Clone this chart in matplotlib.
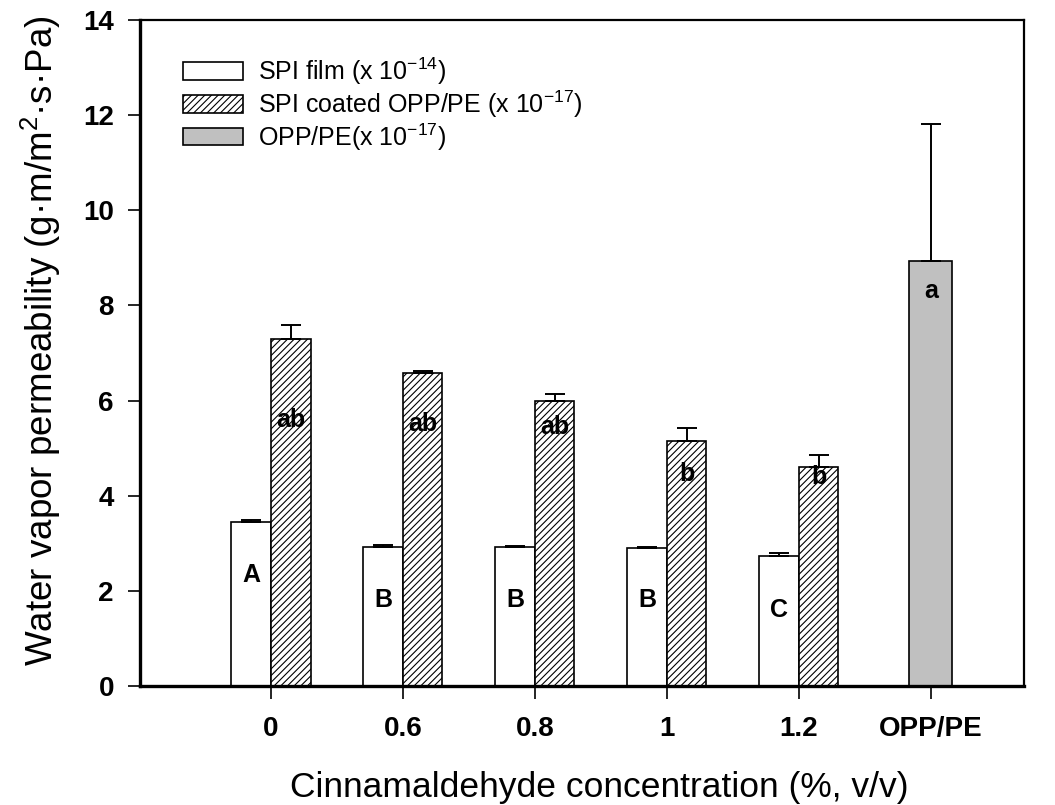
import numpy as np
import matplotlib
matplotlib.use("Agg")
import matplotlib.pyplot as plt
from matplotlib.patches import Patch

plt.rcParams['font.family'] = ['Liberation Sans', 'DejaVu Sans']
plt.rcParams['mathtext.fontset'] = 'custom'
plt.rcParams['mathtext.rm'] = 'Liberation Sans'
plt.rcParams['mathtext.it'] = 'Liberation Sans:italic'
plt.rcParams['mathtext.bf'] = 'Liberation Sans:bold'
plt.rcParams['hatch.linewidth'] = 0.8

# data
groups = ['0', '0.6', '0.8', '1', '1.2', 'OPP/PE']
spi_film = [3.45, 2.93, 2.91, 2.89, 2.73]
spi_film_err = [0.03, 0.03, 0.03, 0.03, 0.06]
spi_coated = [7.29, 6.58, 5.99, 5.15, 4.60]
spi_coated_err = [0.30, 0.05, 0.15, 0.27, 0.25]
opp_pe = [8.93]
opp_pe_err = [2.88]

film_letters = ['A', 'B', 'B', 'B', 'C']
film_letter_y = [2.33, 1.80, 1.80, 1.80, 1.60]
coated_letters = ['ab', 'ab', 'ab', 'b', 'b']
coated_letter_y = [5.60, 5.50, 5.45, 4.45, 4.40]
opp_letter = ['a']
opp_letter_y = [8.30]

w = 0.3
x = np.arange(len(groups))
xs = x[:5]

fig, ax = plt.subplots(figsize=(10.55, 8.05), dpi=100)
fig.subplots_adjust(left=0.133, right=0.971, top=0.975, bottom=0.148)

ekw = dict(ecolor='black', elinewidth=1.4, capsize=7, capthick=1.4)


def up(err):
    return [np.zeros(len(err)), err]


ax.bar(xs - w / 2, spi_film, w, color='white', edgecolor='black', linewidth=1.2,
       yerr=up(spi_film_err), error_kw=ekw)
ax.bar(xs + w / 2, spi_coated, w, color='white', edgecolor='black', linewidth=1.2,
       hatch='/////', yerr=up(spi_coated_err), error_kw=ekw)
ax.bar(x[5:], opp_pe, w * 1.08, color='#c0c0c0', edgecolor='black', linewidth=1.2,
       yerr=up(opp_pe_err), error_kw=ekw)

# significance letters
for xi, t, yy in zip(xs - w / 2, film_letters, film_letter_y):
    ax.text(xi, yy, t, ha='center', va='center', fontsize=18, fontweight='bold')
for xi, t, yy in zip(xs + w / 2, coated_letters, coated_letter_y):
    ax.text(xi, yy, t, ha='center', va='center', fontsize=18, fontweight='bold')
for xi, t, yy in zip(x[5:], opp_letter, opp_letter_y):
    ax.text(xi, yy, t, ha='center', va='center', fontsize=18, fontweight='bold')

ax.set_xlim(-0.99, 5.71)
ax.set_ylim(0, 14)
ax.set_yticks(np.arange(0, 15, 2))
ax.set_xticks(x)
ax.set_xticklabels(groups)
for lab in ax.get_xticklabels() + ax.get_yticklabels():
    lab.set_fontweight('bold')
ax.tick_params(axis='both', direction='out', length=9, width=1.2, labelsize=20, pad=10)
ax.tick_params(axis='x', pad=13)
ax.tick_params(axis='both', which='both', top=False, right=False)
for s in ax.spines.values():
    s.set_linewidth(1.6)
ax.spines['bottom'].set_linewidth(2.4)
ax.spines['left'].set_linewidth(2.4)

ax.set_xlabel('Cinnamaldehyde concentration (%, v/v)', fontsize=25.5, va='center')
ax.xaxis.set_label_coords(0.519, -0.153)
ax.set_ylabel('Water vapor permeability (g\u00b7m/m$^{2}$\u00b7s\u00b7Pa)', fontsize=26.5, va='center')
ax.yaxis.set_label_coords(-0.113, 0.518)

handles = [Patch(facecolor='white', edgecolor='black', linewidth=1.2),
           Patch(facecolor='white', edgecolor='black', linewidth=1.2, hatch='/////'),
           Patch(facecolor='#c0c0c0', edgecolor='black', linewidth=1.2)]
labels = ['SPI film (x 10$^{-14}$)', 'SPI coated OPP/PE (x 10$^{-17}$)', 'OPP/PE(x 10$^{-17}$)']
ax.legend(handles, labels, loc='upper left', bbox_to_anchor=(0.037, 0.962), frameon=False,
          fontsize=18, handlelength=2.4, handleheight=0.68, handletextpad=0.6, labelspacing=0.06,
          borderaxespad=0)

fig.savefig('out.png', dpi=100)
